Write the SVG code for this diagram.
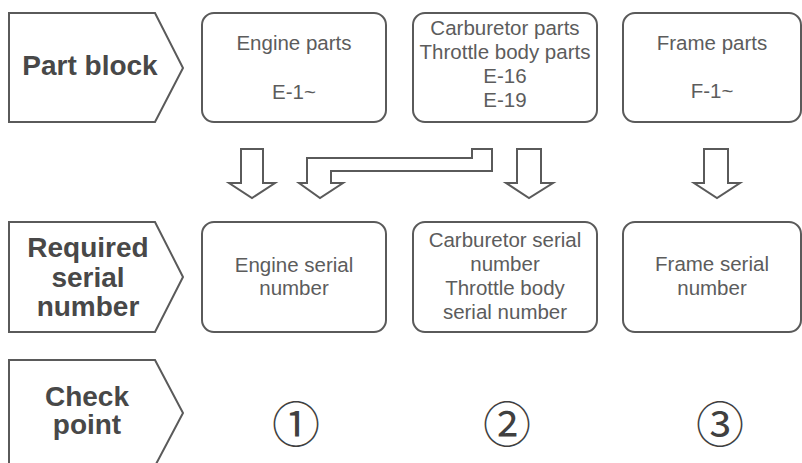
<svg xmlns="http://www.w3.org/2000/svg" width="802" height="463" viewBox="0 0 802 463">
<style>
.lbl{fill:#fff;stroke:#5a5a5a;stroke-width:2;stroke-linejoin:miter}
.box{fill:#fff;stroke:#5a5a5a;stroke-width:2}
.arr{fill:#fff;stroke:#5a5a5a;stroke-width:2;stroke-linejoin:miter}
.b{font-family:"Liberation Sans",Arial,sans-serif;font-weight:bold;font-size:28px;fill:#484848;text-anchor:middle}
.t{font-family:"Liberation Sans",Arial,sans-serif;font-size:20.5px;fill:#5c5c5c;text-anchor:middle}
.c{font-family:"Noto Sans CJK JP",sans-serif;font-size:48px;fill:#404040;text-anchor:middle}
</style>
<rect width="802" height="463" fill="#fff"/>
<g id="label-part-block">
<path class="lbl" d="M9,13 H155 L183,68 L155,122 H9 Z"/>
<text class="b" x="90" y="75">Part block</text>
</g>
<g id="label-required">
<path class="lbl" d="M9,222 H155 L183,277 L155,332 H9 Z"/>
<text class="b" x="88" y="257">Required</text>
<text class="b" x="88" y="287">serial</text>
<text class="b" x="88" y="316">number</text>
</g>
<g id="label-check">
<path class="lbl" d="M9,360 H155 L183,413 L155,466 H9 Z"/>
<text class="b" x="87" y="406">Check</text>
<text class="b" x="87" y="434">point</text>
</g>
<g id="engine-parts">
<rect class="box" x="202" y="13" width="184" height="109" rx="12"/>
<text class="t" x="294" y="50">Engine parts</text>
<text class="t" x="294" y="99">E-1~</text>
</g>
<g id="carb-parts">
<rect class="box" x="413" y="13" width="184" height="109" rx="12"/>
<text class="t" x="505" y="35">Carburetor parts</text>
<text class="t" x="505" y="59">Throttle body parts</text>
<text class="t" x="505" y="83">E-16</text>
<text class="t" x="505" y="107">E-19</text>
</g>
<g id="frame-parts">
<rect class="box" x="623" y="13" width="178" height="109" rx="12"/>
<text class="t" x="712" y="50">Frame parts</text>
<text class="t" x="712" y="98">F-1~</text>
</g>
<g id="engine-serial">
<rect class="box" x="202" y="222" width="184" height="110" rx="12"/>
<text class="t" x="294" y="272">Engine serial</text>
<text class="t" x="294" y="295">number</text>
</g>
<g id="carb-serial">
<rect class="box" x="413" y="222" width="184" height="110" rx="12"/>
<text class="t" x="505" y="247">Carburetor serial</text>
<text class="t" x="505" y="271">number</text>
<text class="t" x="505" y="295">Throttle body</text>
<text class="t" x="505" y="319">serial number</text>
</g>
<g id="frame-serial">
<rect class="box" x="623" y="222" width="178" height="110" rx="12"/>
<text class="t" x="712" y="271">Frame serial</text>
<text class="t" x="712" y="295">number</text>
</g>
<g id="check-1"><text class="c" x="296" y="442">①</text></g>
<g id="check-2"><text class="c" x="507" y="442">②</text></g>
<g id="check-3"><text class="c" x="720" y="442">③</text></g>
<g id="connectors">
<path class="arr" d="M241,149 H263 V183 H275 L252,198 L229,183 H241 Z"/>
<path class="arr" d="M307,183 V158 H472 V149 H492 V171 H331 V183 H343 L320,198 L299,183 Z"/>
<path class="arr" d="M517,149 H541 V183 H553 L529,198 L506,183 H517 Z"/>
<path class="arr" d="M704,149 H728 V183 H740 L717,198 L694,183 H704 Z"/>
</g>
</svg>
